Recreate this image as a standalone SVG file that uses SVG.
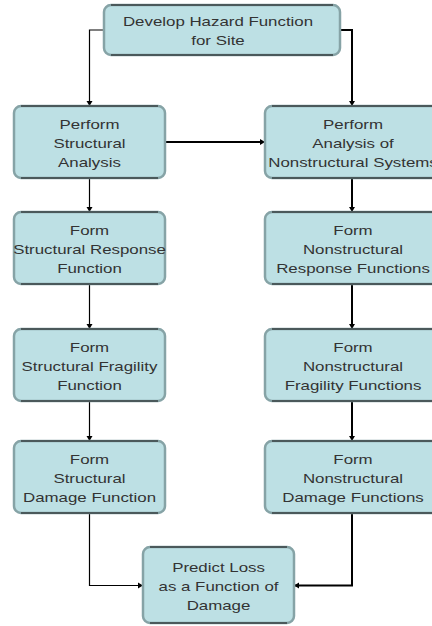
<svg xmlns="http://www.w3.org/2000/svg" width="432" height="626" viewBox="0 0 432 626">
<style>
.box{fill:#bde0e4;stroke:#86a3a6;stroke-width:2.5}
.edge{fill:none;stroke:#111;stroke-width:1.2}
.t{font-family:"Liberation Sans",Arial,sans-serif;font-size:12.5px;fill:#333;text-anchor:middle}
.c1{fill:none;stroke:#000;stroke-width:1.2}
.c2{fill:none;stroke:#000;stroke-width:2}
</style>
<defs>
<marker id="ah" markerUnits="userSpaceOnUse" viewBox="0 0 5 7" refX="5" refY="3.5" markerWidth="5" markerHeight="7" orient="auto">
<path d="M0,0.5 L5,3.5 L0,6.5 Z" fill="#000"/>
</marker>
</defs>
<rect width="432" height="626" fill="#fff"/>
<g id="connectors">
<path class="c1" d="M104,30 H89.5 V106" marker-end="url(#ah)"/>
<path class="c2" d="M340,30 H352 V106" marker-end="url(#ah)"/>
<path class="c2" d="M165,142 H265" marker-end="url(#ah)"/>
<path class="c1" d="M89.5,178 V212" marker-end="url(#ah)"/>
<path class="c1" d="M89.5,284 V329" marker-end="url(#ah)"/>
<path class="c1" d="M89.5,401 V441" marker-end="url(#ah)"/>
<path class="c2" d="M352,178 V212" marker-end="url(#ah)"/>
<path class="c2" d="M352,284 V329" marker-end="url(#ah)"/>
<path class="c2" d="M352,401 V441" marker-end="url(#ah)"/>
<path class="c1" d="M89.5,513 V585.5 H143" marker-end="url(#ah)"/>
<path class="c2" d="M352,513 V585.5 H294" marker-end="url(#ah)"/>
</g>
<g id="n_hazard">
<rect class="box" x="104" y="5" width="236" height="50" rx="7"/>
<path class="edge" d="M111,5 H333 M111,55 H333"/>
<text class="t" transform="translate(218 26) scale(1.35 1)">Develop Hazard Function</text>
<text class="t" transform="translate(218 45) scale(1.35 1)">for Site</text>
</g>
<g id="n_struct_analysis">
<rect class="box" x="14" y="106" width="151" height="72" rx="7"/>
<path class="edge" d="M21,106 H158 M21,178 H158"/>
<text class="t" transform="translate(89.5 129) scale(1.35 1)">Perform</text>
<text class="t" transform="translate(89.5 148) scale(1.35 1)">Structural</text>
<text class="t" transform="translate(89.5 167) scale(1.35 1)">Analysis</text>
</g>
<g id="n_nonstruct_analysis">
<rect class="box" x="265" y="106" width="176" height="72" rx="7"/>
<path class="edge" d="M272,106 H434 M272,178 H434"/>
<text class="t" transform="translate(353 129) scale(1.35 1)">Perform</text>
<text class="t" transform="translate(353 148) scale(1.35 1)">Analysis of</text>
<text class="t" transform="translate(353 167) scale(1.35 1)">Nonstructural Systems</text>
</g>
<g id="n_struct_response">
<rect class="box" x="14" y="212" width="151" height="72" rx="7"/>
<path class="edge" d="M21,212 H158 M21,284 H158"/>
<text class="t" transform="translate(89.5 235) scale(1.35 1)">Form</text>
<text class="t" transform="translate(89.5 254) scale(1.35 1)">Structural Response</text>
<text class="t" transform="translate(89.5 273) scale(1.35 1)">Function</text>
</g>
<g id="n_nonstruct_response">
<rect class="box" x="265" y="212" width="176" height="72" rx="7"/>
<path class="edge" d="M272,212 H434 M272,284 H434"/>
<text class="t" transform="translate(353 235) scale(1.35 1)">Form</text>
<text class="t" transform="translate(353 254) scale(1.35 1)">Nonstructural</text>
<text class="t" transform="translate(353 273) scale(1.35 1)">Response Functions</text>
</g>
<g id="n_struct_fragility">
<rect class="box" x="14" y="329" width="151" height="72" rx="7"/>
<path class="edge" d="M21,329 H158 M21,401 H158"/>
<text class="t" transform="translate(89.5 352) scale(1.35 1)">Form</text>
<text class="t" transform="translate(89.5 371) scale(1.35 1)">Structural Fragility</text>
<text class="t" transform="translate(89.5 390) scale(1.35 1)">Function</text>
</g>
<g id="n_nonstruct_fragility">
<rect class="box" x="265" y="329" width="176" height="72" rx="7"/>
<path class="edge" d="M272,329 H434 M272,401 H434"/>
<text class="t" transform="translate(353 352) scale(1.35 1)">Form</text>
<text class="t" transform="translate(353 371) scale(1.35 1)">Nonstructural</text>
<text class="t" transform="translate(353 390) scale(1.35 1)">Fragility Functions</text>
</g>
<g id="n_struct_damage">
<rect class="box" x="14" y="441" width="151" height="72" rx="7"/>
<path class="edge" d="M21,441 H158 M21,513 H158"/>
<text class="t" transform="translate(89.5 464) scale(1.35 1)">Form</text>
<text class="t" transform="translate(89.5 483) scale(1.35 1)">Structural</text>
<text class="t" transform="translate(89.5 502) scale(1.35 1)">Damage Function</text>
</g>
<g id="n_nonstruct_damage">
<rect class="box" x="265" y="441" width="176" height="72" rx="7"/>
<path class="edge" d="M272,441 H434 M272,513 H434"/>
<text class="t" transform="translate(353 464) scale(1.35 1)">Form</text>
<text class="t" transform="translate(353 483) scale(1.35 1)">Nonstructural</text>
<text class="t" transform="translate(353 502) scale(1.35 1)">Damage Functions</text>
</g>
<g id="n_predict_loss">
<rect class="box" x="143" y="547" width="151" height="76" rx="7"/>
<path class="edge" d="M150,547 H287 M150,623 H287"/>
<text class="t" transform="translate(218.5 572) scale(1.35 1)">Predict Loss</text>
<text class="t" transform="translate(218.5 591) scale(1.35 1)">as a Function of</text>
<text class="t" transform="translate(218.5 610) scale(1.35 1)">Damage</text>
</g>
</svg>
